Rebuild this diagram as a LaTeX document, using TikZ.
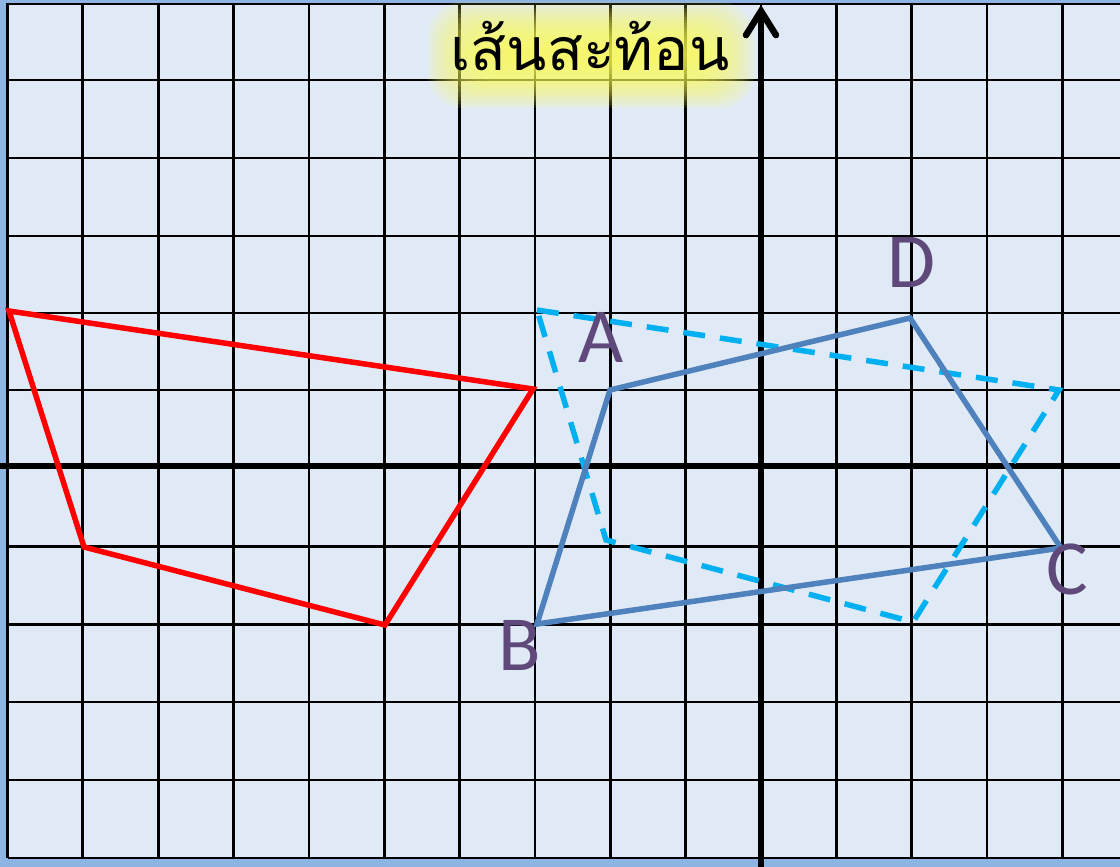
\documentclass[tikz,border=0pt]{standalone}
\usepackage{fontspec}
\newfontfamily\thaifont[Script=Thai]{Loma}
\newfontfamily\labfont{Carlito}
\usetikzlibrary{arrows.meta}
\definecolor{bgfill}{HTML}{E0EAF6}
\definecolor{bordblue}{HTML}{8EB4E3}
\definecolor{redline}{HTML}{FF0000}
\definecolor{blueline}{HTML}{4F81BD}
\definecolor{cyanline}{HTML}{00B0F0}
\definecolor{labcol}{HTML}{5F497A}
\definecolor{glowcol}{HTML}{FFFF55}
\tikzset{
  gridline/.style={draw=black, line width=2.8pt},
  axisline/.style={draw=black, line width=6.5pt},
  redpoly/.style={draw=redline, line width=5.5pt, line join=miter},
  bluepoly/.style={draw=blueline, line width=5.5pt, line join=miter},
  cyanpoly/.style={draw=cyanline, line width=5.5pt, dash pattern=on 22pt off 15pt, line join=miter},
  vlabel/.style={text=labcol, font=\labfont\fontsize{78}{78}\selectfont, inner sep=0pt},
  titletext/.style={font=\thaifont\fontsize{59}{60}\selectfont, inner sep=0pt}
}
\begin{document}
\begin{tikzpicture}[x=1pt,y=-1pt]
\useasboundingbox (0,0) rectangle (1120,867);
% frame and background
\fill[bordblue] (0,0) rectangle (1120,867);
\fill[bgfill] (7.5,3) rectangle (1120,858);
% grid
\foreach \i in {0,...,14}
  \draw[gridline] ({7.5+75.35*\i},3) -- ({7.5+75.35*\i},858);
\foreach \yy in {4,80,158,236,313,390,468,546.5,624.5,702,780,858}
  \draw[gridline] (7.5,\yy) -- (1120,\yy);
% glow behind title
\foreach \k in {0,...,15}
  \fill[glowcol, opacity=0.10, rounded corners=34pt]
    ({428+3.5*\k},{2+3*\k}) rectangle ({754-3.5*\k},{108-3*\k});
\node[titletext] (title) at (590,46) {เส้นสะท้อน};
% axes
\coordinate (xl) at (0,466);
\coordinate (xr) at (1120,466);
\coordinate (yb) at (761,867);
\coordinate (yt) at (761,5);
\draw[axisline] (xl) -- (xr);
\draw[axisline, line cap=round, -{Straight Barb[length=24pt,width=30pt,line cap=round]}] (yb) -- (yt);
% red quadrilateral
\coordinate (R1) at (9,311);
\coordinate (R2) at (533,389);
\coordinate (R3) at (385,625);
\coordinate (R4) at (84,547);
\draw[redpoly] (R1) -- (R2) -- (R3) -- (R4) -- cycle;
% dashed reflection
\coordinate (P1) at (537,310);
\coordinate (P2) at (1059,390);
\coordinate (P3) at (913,622);
\coordinate (P4) at (606,540);
\draw[cyanpoly] (P1) -- (P2) -- (P3) -- (P4) -- cycle;
% ABCD
\coordinate (A) at (610,390);
\coordinate (B) at (537,624);
\coordinate (C) at (1061,548);
\coordinate (D) at (910,318);
\draw[bluepoly] (A) -- (D) -- (C) -- (B) -- cycle;
% labels
\node[vlabel] (lA) at (601,337) {A};
\node[vlabel] (lB) at (520,645) {B};
\node[vlabel] (lC) at (1067,569) {C};
\node[vlabel] (lD) at (911,262) {D};
\end{tikzpicture}
\end{document}
